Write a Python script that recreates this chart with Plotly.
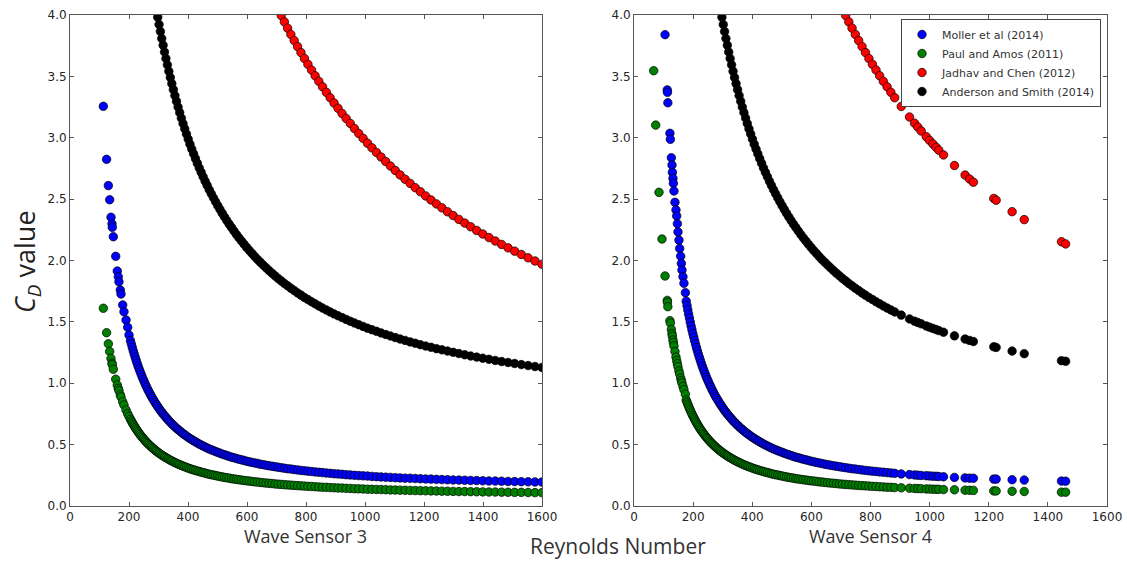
import plotly.graph_objects as go

# ---------------- Wave Sensor 3 (left panel) ----------------
re_ws3 = [113, 124, 130, 134.5, 139, 142.4, 143.4, 146.8, 155, 160.3, 163.7, 166, 170.5, 172.9, 178.6, 183, 190, 195.6, 200,
          205.0, 208.1, 211.2, 214.4, 217.6, 220.8, 224.2, 227.5, 230.9, 234.4,
          237.9, 241.5, 245.1, 248.8, 252.5, 256.3, 260.1, 264.0, 268.0, 272.0,
          276.1, 280.2, 284.5, 288.7, 293.0, 297.4, 301.9, 306.4, 311.0, 315.7,
          320.4, 325.2, 330.1, 335.1, 340.1, 345.2, 350.4, 355.6, 361.0, 366.4,
          371.9, 377.5, 383.1, 388.9, 394.7, 400.6, 406.6, 412.7, 418.9, 425.2,
          431.6, 438.1, 444.6, 451.3, 458.1, 464.9, 471.9, 479.0, 486.2, 493.5,
          500.9, 508.4, 516.0, 523.7, 531.6, 539.6, 547.7, 555.9, 564.2, 572.7,
          581.3, 590.0, 598.8, 607.8, 616.9, 626.2, 635.6, 645.1, 654.8, 664.6,
          674.6, 684.7, 695.0, 705.4, 716.0, 726.7, 737.6, 748.7, 759.9, 771.3,
          782.9, 794.6, 806.5, 818.6, 830.9, 843.4, 856.0, 868.9, 881.9, 895.1,
          908.6, 922.2, 936.0, 950.1, 964.3, 978.8, 993.5, 1008.4, 1023.5, 1038.9,
          1054.4, 1070.3, 1086.3, 1102.6, 1119.1, 1135.9, 1153.0, 1170.3, 1187.8, 1205.6,
          1223.7, 1242.1, 1260.7, 1279.6, 1298.8, 1318.3, 1338.1, 1358.1, 1378.5, 1399.2,
          1420.2, 1441.5, 1463.1, 1485.0, 1507.3, 1529.9, 1552.9, 1576.2, 1599.8]

moller_ws3 = [3.256, 2.824, 2.61, 2.495, 2.352, 2.30, 2.27, 2.194, 2.034, 1.914, 1.868, 1.827, 1.76, 1.727, 1.638, 1.583, 1.515, 1.456, 1.393,
              1.347, 1.319, 1.291, 1.264, 1.238, 1.213, 1.188, 1.163, 1.139, 1.116,
              1.093, 1.071, 1.049, 1.028, 1.008, 0.987, 0.968, 0.948, 0.930, 0.911,
              0.893, 0.876, 0.859, 0.842, 0.826, 0.810, 0.794, 0.779, 0.764, 0.750,
              0.736, 0.722, 0.709, 0.695, 0.683, 0.670, 0.658, 0.646, 0.634, 0.623,
              0.612, 0.601, 0.590, 0.580, 0.570, 0.560, 0.550, 0.541, 0.532, 0.523,
              0.514, 0.505, 0.497, 0.489, 0.481, 0.473, 0.465, 0.458, 0.451, 0.444,
              0.437, 0.430, 0.423, 0.417, 0.411, 0.404, 0.398, 0.393, 0.387, 0.381,
              0.376, 0.371, 0.365, 0.360, 0.355, 0.351, 0.346, 0.341, 0.337, 0.332,
              0.328, 0.324, 0.320, 0.316, 0.312, 0.308, 0.304, 0.301, 0.297, 0.294,
              0.290, 0.287, 0.284, 0.281, 0.278, 0.275, 0.272, 0.269, 0.266, 0.263,
              0.261, 0.258, 0.255, 0.253, 0.250, 0.248, 0.246, 0.244, 0.241, 0.239,
              0.237, 0.235, 0.233, 0.231, 0.229, 0.227, 0.226, 0.224, 0.222, 0.220,
              0.219, 0.217, 0.215, 0.214, 0.212, 0.211, 0.210, 0.208, 0.207, 0.205,
              0.204, 0.203, 0.202, 0.200, 0.199, 0.198, 0.197, 0.196, 0.195]

paul_ws3 = [1.611, 1.412, 1.321, 1.259, 1.202, 1.162, 1.151, 1.114, 1.033, 0.986, 0.958, 0.940, 0.906, 0.889, 0.850, 0.823, 0.782, 0.752, 0.730,
            0.707, 0.693, 0.679, 0.666, 0.653, 0.640, 0.628, 0.616, 0.604, 0.592,
            0.581, 0.570, 0.559, 0.549, 0.538, 0.528, 0.518, 0.509, 0.499, 0.490,
            0.481, 0.472, 0.463, 0.455, 0.447, 0.438, 0.431, 0.423, 0.415, 0.408,
            0.401, 0.394, 0.387, 0.380, 0.373, 0.367, 0.360, 0.354, 0.348, 0.342,
            0.336, 0.331, 0.325, 0.320, 0.315, 0.309, 0.304, 0.299, 0.294, 0.290,
            0.285, 0.281, 0.276, 0.272, 0.268, 0.263, 0.259, 0.255, 0.252, 0.248,
            0.244, 0.240, 0.237, 0.233, 0.230, 0.227, 0.223, 0.220, 0.217, 0.214,
            0.211, 0.208, 0.205, 0.203, 0.200, 0.197, 0.195, 0.192, 0.190, 0.187,
            0.185, 0.183, 0.180, 0.178, 0.176, 0.174, 0.172, 0.170, 0.168, 0.166,
            0.164, 0.162, 0.160, 0.159, 0.157, 0.155, 0.153, 0.152, 0.150, 0.149,
            0.147, 0.146, 0.144, 0.143, 0.141, 0.140, 0.139, 0.137, 0.136, 0.135,
            0.134, 0.133, 0.131, 0.130, 0.129, 0.128, 0.127, 0.126, 0.125, 0.124,
            0.123, 0.122, 0.121, 0.120, 0.119, 0.118, 0.118, 0.117, 0.116, 0.115,
            0.114, 0.114, 0.113, 0.112, 0.111, 0.111, 0.110, 0.109, 0.109]

# points above C_D = 4 lie outside the plotted range -> None
jadhav_ws3 = [None] * 103 + [
              3.996, 3.944, 3.893, 3.842, 3.792, 3.743,
              3.694, 3.646, 3.598, 3.552, 3.505, 3.460, 3.415, 3.370, 3.326, 3.283,
              3.240, 3.198, 3.157, 3.116, 3.075, 3.035, 2.995, 2.956, 2.918, 2.880,
              2.843, 2.806, 2.769, 2.733, 2.697, 2.662, 2.628, 2.593, 2.560, 2.526,
              2.493, 2.461, 2.429, 2.397, 2.366, 2.335, 2.305, 2.275, 2.245, 2.216,
              2.187, 2.159, 2.131, 2.103, 2.076, 2.049, 2.022, 1.996, 1.970]

anderson_ws3 = [None] * 43 + [
                4.041, 3.982, 3.923, 3.866, 3.809, 3.754,
                3.699, 3.646, 3.594, 3.541, 3.491, 3.441, 3.392, 3.344, 3.297, 3.250,
                3.205, 3.160, 3.116, 3.073, 3.031, 2.989, 2.948, 2.908, 2.869, 2.830,
                2.792, 2.754, 2.718, 2.682, 2.646, 2.612, 2.577, 2.544, 2.511, 2.479,
                2.447, 2.416, 2.385, 2.355, 2.325, 2.296, 2.268, 2.240, 2.212, 2.185,
                2.159, 2.133, 2.107, 2.082, 2.058, 2.033, 2.009, 1.986, 1.963, 1.941,
                1.918, 1.897, 1.875, 1.854, 1.834, 1.813, 1.794, 1.774, 1.755, 1.736,
                1.718, 1.699, 1.682, 1.664, 1.647, 1.630, 1.613, 1.597, 1.581, 1.565,
                1.550, 1.535, 1.520, 1.505, 1.491, 1.477, 1.463, 1.449, 1.436, 1.423,
                1.410, 1.397, 1.385, 1.372, 1.360, 1.349, 1.337, 1.326, 1.314, 1.303,
                1.293, 1.282, 1.272, 1.262, 1.252, 1.242, 1.232, 1.222, 1.213, 1.204,
                1.195, 1.186, 1.177, 1.169, 1.161, 1.152, 1.144, 1.136, 1.129]

# ---------------- Wave Sensor 4 (right panel) ----------------
re_ws4 = [66.6, 73.4, 84.6, 94.7, 105.0, 112.5, 113.2, 114.5, 121.5, 123.0, 126.4, 128.5, 129.8, 131.8, 133.2, 135.2,
          138.6, 142.0, 144.4, 146.7, 148.8, 152.1, 154.5, 157.9, 160.2, 162.3, 165.7, 169.0, 173.8,
          176.6, 179.3, 182.0, 184.7, 187.5, 190.3, 193.1, 196.0, 199.0, 202.0,
          205.0, 208.1, 211.2, 214.4, 217.6, 220.8, 224.2, 227.5, 230.9, 234.4,
          237.9, 241.5, 245.1, 248.8, 252.5, 256.3, 260.1, 264.0, 268.0, 272.0,
          276.1, 280.2, 284.5, 288.7, 293.0, 297.4, 301.9, 306.4, 311.0, 315.7,
          320.4, 325.2, 330.1, 335.1, 340.1, 345.2, 350.4, 355.6, 361.0, 366.4,
          371.9, 377.5, 383.1, 388.9, 394.7, 400.6, 406.6, 412.7, 418.9, 425.2,
          431.6, 438.1, 444.6, 451.3, 458.1, 464.9, 471.9, 479.0, 486.2, 493.5,
          500.9, 508.4, 516.0, 523.7, 531.6, 539.6, 547.7, 555.9, 564.2, 572.7,
          581.3, 590.0, 598.8, 607.8, 616.9, 626.2, 635.6, 645.1, 654.8, 664.6,
          674.6, 684.7, 695.0, 705.4, 716.0, 726.7, 737.6, 748.7, 759.9, 771.3,
          782.9, 794.6, 806.5, 818.6, 830.9, 843.4, 856.0, 868.9, 881.9,
          904, 932, 949, 960, 971.5, 988.5, 999.7, 1011, 1022, 1031, 1047,
          1084, 1120, 1135, 1148, 1217, 1225, 1279, 1320, 1446, 1460]

moller_ws4 = [None, None, None, None, 3.84, 3.39, 3.37, 3.285, 3.036, 2.987, 2.837, 2.778, 2.718, 2.669, 2.629, 2.566,
              2.474, 2.412, 2.363, 2.300, 2.233, 2.166, 2.098, 2.035, 1.976, 1.922, 1.868, 1.814, 1.738,
              1.669, 1.633, 1.598, 1.564, 1.531, 1.498, 1.467, 1.436, 1.405, 1.376,
              1.347, 1.319, 1.291, 1.264, 1.238, 1.213, 1.188, 1.163, 1.139, 1.116,
              1.093, 1.071, 1.049, 1.028, 1.008, 0.987, 0.968, 0.948, 0.930, 0.911,
              0.893, 0.876, 0.859, 0.842, 0.826, 0.810, 0.794, 0.779, 0.764, 0.750,
              0.736, 0.722, 0.709, 0.695, 0.683, 0.670, 0.658, 0.646, 0.634, 0.623,
              0.612, 0.601, 0.590, 0.580, 0.570, 0.560, 0.550, 0.541, 0.532, 0.523,
              0.514, 0.505, 0.497, 0.489, 0.481, 0.473, 0.465, 0.458, 0.451, 0.444,
              0.437, 0.430, 0.423, 0.417, 0.411, 0.404, 0.398, 0.393, 0.387, 0.381,
              0.376, 0.371, 0.365, 0.360, 0.355, 0.351, 0.346, 0.341, 0.337, 0.332,
              0.328, 0.324, 0.320, 0.316, 0.312, 0.308, 0.304, 0.301, 0.297, 0.294,
              0.290, 0.287, 0.284, 0.281, 0.278, 0.275, 0.272, 0.269, 0.266,
              0.261, 0.256, 0.253, 0.251, 0.249, 0.247, 0.245, 0.243, 0.242, 0.240, 0.238,
              0.233, 0.229, 0.227, 0.226, 0.219, 0.219, 0.214, 0.211, 0.203, 0.202]

paul_ws4 = [3.546, 3.103, 2.555, 2.175, 1.874, 1.675, 1.660, 1.624, 1.510, 1.490, 1.438, 1.404, 1.383, 1.353, 1.332, 1.304,
            1.258, 1.214, 1.185, 1.159, 1.135, 1.100, 1.076, 1.043, 1.022, 1.003, 0.974, 0.948, 0.911,
            0.863, 0.846, 0.829, 0.813, 0.796, 0.781, 0.765, 0.750, 0.735, 0.721,
            0.707, 0.693, 0.679, 0.666, 0.653, 0.640, 0.628, 0.616, 0.604, 0.592,
            0.581, 0.570, 0.559, 0.549, 0.538, 0.528, 0.518, 0.509, 0.499, 0.490,
            0.481, 0.472, 0.463, 0.455, 0.447, 0.438, 0.431, 0.423, 0.415, 0.408,
            0.401, 0.394, 0.387, 0.380, 0.373, 0.367, 0.360, 0.354, 0.348, 0.342,
            0.336, 0.331, 0.325, 0.320, 0.315, 0.309, 0.304, 0.299, 0.294, 0.290,
            0.285, 0.281, 0.276, 0.272, 0.268, 0.263, 0.259, 0.255, 0.252, 0.248,
            0.244, 0.240, 0.237, 0.233, 0.230, 0.227, 0.223, 0.220, 0.217, 0.214,
            0.211, 0.208, 0.205, 0.203, 0.200, 0.197, 0.195, 0.192, 0.190, 0.187,
            0.185, 0.183, 0.180, 0.178, 0.176, 0.174, 0.172, 0.170, 0.168, 0.166,
            0.164, 0.162, 0.160, 0.159, 0.157, 0.155, 0.153, 0.152, 0.150,
            0.148, 0.145, 0.143, 0.142, 0.141, 0.139, 0.138, 0.137, 0.136, 0.136, 0.134,
            0.132, 0.129, 0.128, 0.127, 0.123, 0.123, 0.120, 0.118, 0.113, 0.113]

jadhav_ws4 = [None] * 123 + [
              3.996, 3.944, 3.893, 3.842, 3.792, 3.743,
              3.694, 3.646, 3.598, 3.552, 3.505, 3.460, 3.415, 3.370, 3.326,
              3.255, 3.169, 3.119, 3.087, 3.055, 3.009, 2.979, 2.950, 2.922, 2.899, 2.860,
              2.774, 2.696, 2.664, 2.638, 2.506, 2.491, 2.398, 2.333, 2.153, 2.135]

anderson_ws4 = [None] * 63 + [
                4.041, 3.982, 3.923, 3.866, 3.809, 3.754,
                3.699, 3.646, 3.594, 3.541, 3.491, 3.441, 3.392, 3.344, 3.297, 3.250,
                3.205, 3.160, 3.116, 3.073, 3.031, 2.989, 2.948, 2.908, 2.869, 2.830,
                2.792, 2.754, 2.718, 2.682, 2.646, 2.612, 2.577, 2.544, 2.511, 2.479,
                2.447, 2.416, 2.385, 2.355, 2.325, 2.296, 2.268, 2.240, 2.212, 2.185,
                2.159, 2.133, 2.107, 2.082, 2.058, 2.033, 2.009, 1.986, 1.963, 1.941,
                1.918, 1.897, 1.875, 1.854, 1.834, 1.813, 1.794, 1.774, 1.755, 1.736,
                1.718, 1.699, 1.682, 1.664, 1.647, 1.630, 1.613, 1.597, 1.581,
                1.555, 1.524, 1.506, 1.495, 1.484, 1.467, 1.457, 1.447, 1.437, 1.429, 1.416,
                1.386, 1.360, 1.349, 1.340, 1.297, 1.292, 1.262, 1.241, 1.184, 1.179]

series_names = ["Moller et al (2014)", "Paul and Amos (2011)", "Jadhav and Chen (2012)", "Anderson and Smith (2014)"]
series_colors = ["#0000ff", "#008000", "#ff0000", "#000000"]
ws3_values = [moller_ws3, paul_ws3, jadhav_ws3, anderson_ws3]
ws4_values = [moller_ws4, paul_ws4, jadhav_ws4, anderson_ws4]

for v in ws3_values:
    assert len(v) == len(re_ws3), (len(v), len(re_ws3))
for v in ws4_values:
    assert len(v) == len(re_ws4), (len(v), len(re_ws4))

x_ticks = [0, 200, 400, 600, 800, 1000, 1200, 1400, 1600]
y_ticks = [0.0, 0.5, 1.0, 1.5, 2.0, 2.5, 3.0, 3.5, 4.0]

fig = go.Figure()
for name, color, v3, v4 in zip(series_names, series_colors, ws3_values, ws4_values):
    mk = dict(size=8.5, color=color, line=dict(color="#000000", width=0.7))
    fig.add_trace(go.Scatter(x=re_ws3, y=v3, mode="markers", marker=mk, name=name,
                             legendgroup=name, showlegend=False, xaxis="x", yaxis="y"))
    fig.add_trace(go.Scatter(x=re_ws4, y=v4, mode="markers", marker=mk, name=name,
                             legendgroup=name, showlegend=True, xaxis="x2", yaxis="y2"))

W, H = 1127, 561
def px_x(p):
    return p / W
def px_y(p):
    return 1 - p / H

tick_font = dict(family="DejaVu Sans", size=12, color="#262626")
axis_common = dict(showline=True, linecolor="#555555", linewidth=1, mirror="ticks",
                   ticks="inside", ticklen=4, tickcolor="#555555", showgrid=False,
                   zeroline=False, tickfont=tick_font, automargin=False)

title_font = dict(family="Open Sans", size=18, color="#333333")

fig.update_layout(
    width=W, height=H,
    margin=dict(l=0, r=0, t=0, b=0),
    paper_bgcolor="white", plot_bgcolor="white",
    xaxis=dict(domain=[px_x(70), px_x(542)], range=[0, 1600], tickvals=x_ticks, anchor="y", **axis_common),
    yaxis=dict(domain=[px_y(506), px_y(15)], range=[0, 4], tickvals=y_ticks, tickformat=".1f", anchor="x", **axis_common),
    xaxis2=dict(domain=[px_x(634), px_x(1107)], range=[0, 1600], tickvals=x_ticks, anchor="y2", **axis_common),
    yaxis2=dict(domain=[px_y(506), px_y(15)], range=[0, 4], tickvals=y_ticks, tickformat=".1f", anchor="x2", **axis_common),
    legend=dict(x=px_x(1101), y=px_y(19), xanchor="right", yanchor="top",
                bgcolor="white", bordercolor="#444444", borderwidth=1,
                font=dict(family="DejaVu Sans", size=11, color="#333333"),
                tracegroupgap=0, itemwidth=30),
    showlegend=True,
    annotations=[
        dict(text="Wave Sensor 3", x=px_x(306), y=px_y(536), xref="paper", yref="paper",
             xanchor="center", yanchor="middle", borderpad=0, showarrow=False, font=title_font),
        dict(text="Wave Sensor 4", x=px_x(870), y=px_y(536), xref="paper", yref="paper",
             xanchor="center", yanchor="middle", borderpad=0, showarrow=False, font=title_font),
        dict(text="Reynolds Number", x=px_x(618), y=px_y(546), xref="paper", yref="paper",
             xanchor="center", yanchor="middle", borderpad=0, showarrow=False,
             font=dict(family="Open Sans", size=21, color="#333333")),
        dict(text="<i>C</i><sub><i>D</i></sub> value", x=px_x(26), y=px_y(262), xref="paper", yref="paper",
             xanchor="center", yanchor="middle", textangle=-90, borderpad=0, showarrow=False,
             font=dict(family="Open Sans", size=27, color="#222222")),
    ],
)

fig.write_html("out.html")
